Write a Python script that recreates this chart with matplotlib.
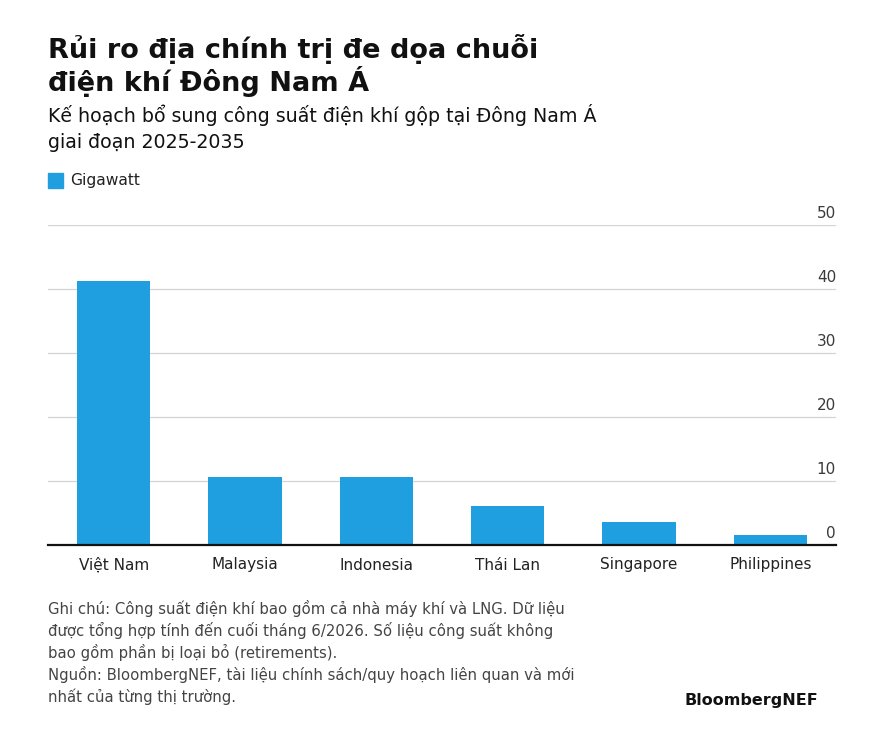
import matplotlib.pyplot as plt
from matplotlib import transforms

countries = ['Việt Nam', 'Malaysia', 'Indonesia', 'Thái Lan', 'Singapore', 'Philippines']
gigawatt = [41.2, 10.7, 10.7, 6.1, 3.6, 1.6]
y_ticks = [0, 10, 20, 30, 40, 50]

W, H = 884, 734
blue = '#1f9fdf'

plt.rcParams['font.family'] = ['DejaVu Sans']

fig = plt.figure(figsize=(W / 100, H / 100), dpi=100)

# plot area
ax = fig.add_axes([48 / W, 1 - 545 / H, 788 / W, 320 / H])
ax.bar(range(len(countries)), gigawatt, width=0.56, color=blue, zorder=3)
ax.set_xlim(-0.5, len(countries) - 0.5)
ax.set_ylim(0, 50)
ax.set_yticks(y_ticks)
ax.yaxis.tick_right()
ax.grid(axis='y', color='#d4d4d4', linewidth=0.9, zorder=0)
for s in ['top', 'left', 'right']:
    ax.spines[s].set_visible(False)
ax.spines['bottom'].set_color('#111111')
ax.spines['bottom'].set_linewidth(1.6)
ax.spines['bottom'].set_zorder(4)
ax.tick_params(axis='y', length=0, pad=0, labelsize=11, labelcolor='#3a3a3a')
ax.tick_params(axis='x', length=0, pad=9, labelsize=11, labelcolor='#222222')
ax.set_xticks(range(len(countries)))
ax.set_xticklabels(countries)

# y labels sit above the gridlines, right-aligned at the edge
off = transforms.ScaledTranslation(0, 4 / 100, fig.dpi_scale_trans)
for lab in ax.get_yticklabels():
    lab.set_horizontalalignment('right')
    lab.set_verticalalignment('bottom')
    lab.set_transform(lab.get_transform() + off)

# titles
fig.text(48 / W, 1 - 58 / H, 'Rủi ro địa chính trị đe dọa chuỗi', fontsize=19.5,
         weight='bold', color='#111111', va='baseline')
fig.text(48 / W, 1 - 91 / H, 'điện khí Đông Nam Á', fontsize=19.5,
         weight='bold', color='#111111', va='baseline')
fig.text(48 / W, 1 - 122 / H, 'Kế hoạch bổ sung công suất điện khí gộp tại Đông Nam Á',
         fontsize=13.7, color='#111111', va='baseline')
fig.text(48 / W, 1 - 148 / H, 'giai đoạn 2025-2035',
         fontsize=13.7, color='#111111', va='baseline')

# legend
fig.patches.append(plt.Rectangle((48 / W, 1 - 188 / H), 15 / W, 15 / H,
                                 transform=fig.transFigure, color=blue))
fig.text(70 / W, 1 - 180.5 / H, 'Gigawatt', fontsize=11.2, color='#222222', va='center')

# notes
notes = ['Ghi chú: Công suất điện khí bao gồm cả nhà máy khí và LNG. Dữ liệu',
         'được tổng hợp tính đến cuối tháng 6/2026. Số liệu công suất không',
         'bao gồm phần bị loại bỏ (retirements).',
         'Nguồn: BloombergNEF, tài liệu chính sách/quy hoạch liên quan và mới',
         'nhất của từng thị trường.']
for i, line in enumerate(notes):
    fig.text(48 / W, 1 - (614 + 22 * i) / H, line, fontsize=10.7,
             color='#444444', va='baseline')

fig.text(818 / W, 1 - 705 / H, 'BloombergNEF', fontsize=11.5, weight='bold',
         color='#111111', ha='right', va='baseline')

fig.savefig('out.png', dpi=100, facecolor='white')
